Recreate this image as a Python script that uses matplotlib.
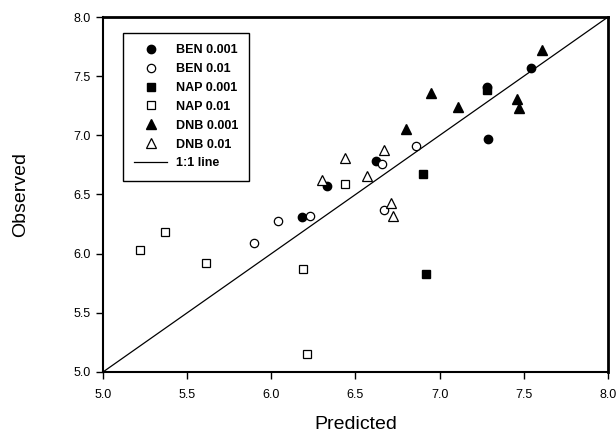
import matplotlib
matplotlib.use("Agg")
import matplotlib.pyplot as plt

plt.rcParams['font.family'] = ['Liberation Sans', 'DejaVu Sans']

# --- data ---
ben_001_x = [6.18, 6.33, 6.62, 7.28, 7.29, 7.54]
ben_001_y = [6.31, 6.57, 6.78, 7.41, 6.97, 7.57]
ben_01_x = [5.90, 6.04, 6.23, 6.66, 6.67, 6.86]
ben_01_y = [6.09, 6.28, 6.32, 6.76, 6.37, 6.91]
nap_001_x = [6.90, 6.92, 7.28]
nap_001_y = [6.67, 5.83, 7.38]
nap_01_x = [5.22, 5.37, 5.61, 6.19, 6.21, 6.44]
nap_01_y = [6.03, 6.18, 5.92, 5.87, 5.15, 6.59]
dnb_001_x = [6.80, 6.95, 7.11, 7.46, 7.47, 7.61]
dnb_001_y = [7.05, 7.36, 7.24, 7.31, 7.23, 7.72]
dnb_01_x = [6.30, 6.44, 6.57, 6.67, 6.71, 6.72]
dnb_01_y = [6.62, 6.81, 6.66, 6.88, 6.43, 6.32]
line_xy = [5.0, 8.0]
ticks = [5.0, 5.5, 6.0, 6.5, 7.0, 7.5, 8.0]

fig = plt.figure(figsize=(6.16, 4.34), dpi=100)
ax = fig.add_axes([0.1672, 0.1429, 0.8198, 0.8179])

ms = 6
ax.plot(ben_001_x, ben_001_y, 'o', color='black', ms=ms, label='BEN 0.001', zorder=3)
ax.plot(ben_01_x, ben_01_y, 'o', mfc='white', mec='black', mew=0.9, ms=ms, label='BEN 0.01', zorder=3)
ax.plot(nap_001_x, nap_001_y, 's', color='black', ms=ms, label='NAP 0.001', zorder=3)
ax.plot(nap_01_x, nap_01_y, 's', mfc='white', mec='black', mew=0.9, ms=ms, label='NAP 0.01', zorder=3)
ax.plot(dnb_001_x, dnb_001_y, '^', color='black', ms=ms + 1, label='DNB 0.001', zorder=3)
ax.plot(dnb_01_x, dnb_01_y, '^', mfc='white', mec='black', mew=0.9, ms=ms + 1, label='DNB 0.01', zorder=3)
ax.plot(line_xy, line_xy, '-', color='black', lw=0.9, label='1:1 line', zorder=2)

ax.set_xlim(5.0, 8.0)
ax.set_ylim(5.0, 8.0)
ax.set_xticks(ticks)
ax.set_yticks(ticks)
ax.set_xticklabels([f"{t:.1f}" for t in ticks])
ax.set_yticklabels([f"{t:.1f}" for t in ticks])
ax.tick_params(direction='out', length=5, width=1, labelsize=9)
ax.tick_params(axis='x', pad=7)
ax.tick_params(axis='y', pad=4)

for side in ['top', 'right']:
    ax.spines[side].set_linewidth(2)
for side in ['left', 'bottom']:
    ax.spines[side].set_linewidth(1.5)

ax.set_xlabel("Predicted", fontsize=14, va='top')
ax.xaxis.set_label_coords(0.5, -0.125)
ax.set_ylabel("Observed", fontsize=14)
ax.yaxis.set_label_coords(-0.147, 0.5)

leg = ax.legend(loc='upper left', bbox_to_anchor=(0.04, 0.955), borderaxespad=0,
                fancybox=False, edgecolor='black', framealpha=1,
                prop={'weight': 'bold', 'size': 9}, handlelength=2.6,
                labelspacing=0.55, borderpad=0.9, handletextpad=0.7)
leg.get_frame().set_linewidth(1)

fig.savefig("out.png", dpi=100)
